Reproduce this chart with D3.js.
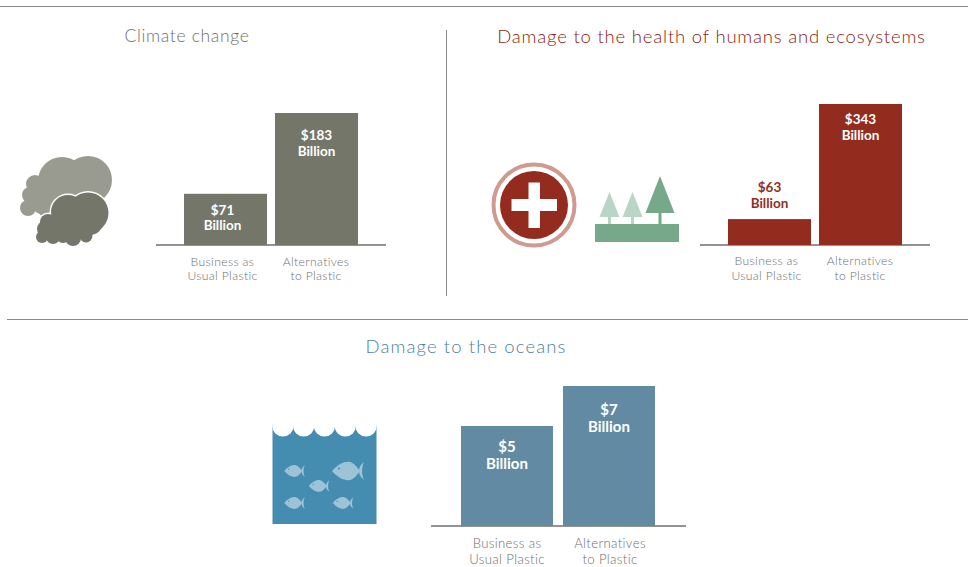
<!DOCTYPE html>
<html>
<head>
<meta charset="utf-8">
<script src="https://cdn.jsdelivr.net/npm/d3@7"></script>
<style>
  html, body { margin: 0; padding: 0; background: #fff; overflow: hidden; }
  text { font-family: Lato, "Open Sans", sans-serif; }
</style>
</head>
<body>
<svg id="chart" width="968" height="567"></svg>
<script>
// values, in billions of dollars
const categories = ["Business as Usual Plastic", "Alternatives to Plastic"];
const tick_lines = [["Business as", "Usual Plastic"], ["Alternatives", "to Plastic"]];
const climate_values = [71, 183];
const health_values = [63, 343];
const ocean_values = [5, 7];

const svg = d3.select("svg#chart");
const grey_line = "#8a8a8a";
const tick_color = "#6e6e6e";

// rules between the panels
svg.append("line").attr("x1", 0).attr("x2", 968).attr("y1", 6.5).attr("y2", 6.5).attr("stroke", grey_line);
svg.append("line").attr("x1", 7).attr("x2", 968).attr("y1", 319.5).attr("y2", 319.5).attr("stroke", grey_line);
svg.append("line").attr("x1", 446.5).attr("x2", 446.5).attr("y1", 30).attr("y2", 296).attr("stroke", grey_line);

function add_title(label, x, y, color, size, spacing) {
  svg.append("text")
    .attr("x", x)
    .attr("y", y)
    .attr("text-anchor", "middle")
    .attr("fill", color)
    .style("font-size", size + "px")
    .style("font-weight", 300)
    .style("letter-spacing", spacing + "px")
    .text(label);
}
add_title("Climate change", 187, 42, "#6f7066", 17.5, 0.65);
add_title("Damage to the health of humans and ecosystems", 711.5, 43, "#8a1c0e", 18.5, 0.8);
add_title("Damage to the oceans", 466, 353, "#4f7f99", 18.5, 1.1);

function draw_panel(p) {
  const g = svg.append("g").attr("class", "panel");
  const x = d3.scaleBand().domain(categories).range(p.range).paddingInner(p.inner);
  const y = d3.scaleLinear().domain([0, p.max]).range([p.base, p.base - p.max_height]);

  g.append("line")
    .attr("x1", p.line[0]).attr("x2", p.line[1])
    .attr("y1", p.base).attr("y2", p.base)
    .attr("stroke", "#6f6f6f").attr("stroke-width", 1.4);

  g.selectAll("rect.bar")
    .data(p.values)
    .join("rect")
    .attr("class", "bar")
    .attr("x", (d, i) => x(categories[i]))
    .attr("y", d => y(d))
    .attr("width", x.bandwidth())
    .attr("height", d => y(0) - y(d))
    .attr("fill", p.color);

  // two line value labels
  p.values.forEach((d, i) => {
    const cx = x(categories[i]) + x.bandwidth() / 2 + p.label_dx[i];
    const first = y(d) + p.label_dy[i];
    const label = g.append("text")
      .attr("text-anchor", "middle")
      .attr("fill", p.label_color[i])
      .style("font-size", p.label_size + "px")
      .style("font-weight", 700);
    label.append("tspan").attr("x", cx).attr("y", first).text("$" + d);
    label.append("tspan").attr("x", cx).attr("y", first + p.label_gap).text("Billion");
  });

  const axis = d3.axisBottom(x).tickSize(0).tickPadding(0);
  const axis_g = g.append("g")
    .attr("transform", `translate(0, ${p.base})`)
    .call(axis);
  axis_g.select(".domain").remove();
  axis_g.selectAll(".tick text").each(function (d, i) {
    const t = d3.select(this).text(null)
      .attr("y", null).attr("dy", null)
      .attr("fill", tick_color)
      .style("font-size", p.tick_size + "px")
      .style("font-weight", 300)
      .style("letter-spacing", "0.35px");
    tick_lines[i].forEach((line, k) => {
      t.append("tspan")
        .attr("x", p.tick_dx[i])
        .attr("y", p.tick_y + k * p.tick_gap)
        .text(line);
    });
  });
}

draw_panel({
  values: climate_values, max: 183, max_height: 132, base: 245,
  range: [184, 358], inner: 8 / 91, line: [156, 386], color: "#75766a",
  label_color: ["#fff", "#fff"], label_dx: [-3, 0], label_dy: [21, 27], label_gap: 15.5, label_size: 13.5,
  tick_y: 20.5, tick_gap: 14.5, tick_size: 12.2, tick_dx: [-3, -0.5]
});
draw_panel({
  values: health_values, max: 343, max_height: 141, base: 245,
  range: [728, 902], inner: 8 / 91, line: [700, 930], color: "#932c1e",
  label_color: ["#932c1e", "#fff"], label_dx: [0, 0], label_dy: [-27, 20], label_gap: 16, label_size: 13.5,
  tick_y: 20, tick_gap: 14.5, tick_size: 12.2, tick_dx: [-3, -0.5]
});
draw_panel({
  values: ocean_values, max: 7, max_height: 140, base: 526,
  range: [461, 655], inner: 10 / 102, line: [431, 686], color: "#628ba3",
  label_color: ["#fff", "#fff"], label_dx: [0, 0], label_dy: [26, 29], label_gap: 17, label_size: 15,
  tick_y: 22, tick_gap: 16, tick_size: 13.2, tick_dx: [0, 1]
});

// cloud icon
const clouds = svg.append("g").attr("class", "clouds");
const back_cloud = [[88, 180, 24], [62, 181, 24], [35, 184, 9], [30, 195, 8], [28, 208, 8], [60, 198, 26], [45, 200, 15]];
const front_cloud = [[88, 213, 20.5], [68, 212, 17], [48, 222, 8], [45, 229, 8], [42, 237, 6], [53, 237, 7], [63, 236, 7], [73, 238, 8], [86, 236, 6.5], [66, 226, 14], [72, 222, 16], [90, 222, 13]];
clouds.selectAll("circle.back").data(back_cloud).join("circle")
  .attr("class", "back").attr("cx", d => d[0]).attr("cy", d => d[1]).attr("r", d => d[2]).attr("fill", "#9a9b90");
clouds.selectAll("circle.halo").data(front_cloud).join("circle")
  .attr("class", "halo").attr("cx", d => d[0]).attr("cy", d => d[1]).attr("r", d => d[2] + 1.5).attr("fill", "#fff");
clouds.selectAll("circle.front").data(front_cloud).join("circle")
  .attr("class", "front").attr("cx", d => d[0]).attr("cy", d => d[1]).attr("r", d => d[2]).attr("fill", "#75766a");

// health cross
const cross = svg.append("g").attr("class", "cross");
cross.append("circle").attr("cx", 534).attr("cy", 205).attr("r", 40.5).attr("fill", "none").attr("stroke", "#cf9a8f").attr("stroke-width", 4);
cross.append("circle").attr("cx", 534).attr("cy", 205).attr("r", 34).attr("fill", "#932c1e");
cross.append("rect").attr("x", 511.5).attr("y", 199).attr("width", 45.5).attr("height", 12).attr("fill", "#fff");
cross.append("rect").attr("x", 528.5).attr("y", 182.5).attr("width", 11.5).attr("height", 45.5).attr("fill", "#fff");

// trees
const trees = svg.append("g").attr("class", "trees");
trees.append("rect").attr("x", 595).attr("y", 224).attr("width", 84).attr("height", 18).attr("fill", "#76a98a");
[[609.5, 192, 217, 10, "#b9d5c6"], [632.5, 192, 217, 10, "#b9d5c6"], [660, 176, 213, 14.5, "#76a98a"]].forEach(t => {
  trees.append("path")
    .attr("d", `M${t[0]},${t[1]}L${t[0] + t[3]},${t[2]}L${t[0] - t[3]},${t[2]}Z`)
    .attr("fill", t[4]);
  trees.append("rect").attr("x", t[0] - 1.5).attr("y", t[2]).attr("width", 3).attr("height", 224 - t[2]).attr("fill", t[4]);
});

// ocean
const ocean = svg.append("g").attr("class", "ocean");
ocean.append("rect").attr("x", 272.5).attr("y", 425).attr("width", 104).attr("height", 99).attr("fill", "#458cb1");
ocean.selectAll("circle.wave").data(d3.range(5)).join("circle")
  .attr("class", "wave")
  .attr("cx", d => 282.9 + d * 20.8)
  .attr("cy", 426)
  .attr("r", 10.6)
  .attr("fill", "#fff");

function fish(cx, cy, s) {
  const f = ocean.append("g").attr("transform", `translate(${cx},${cy}) scale(${s})`);
  f.append("path")
    .attr("d", "M-16,0C-10,-7 -3,-10 2,-9C6,-8 9,-4 12,0C9,4 6,8 2,9C-3,10 -10,7 -16,0Z")
    .attr("fill", "#9dc4d6");
  f.append("path")
    .attr("d", "M16,-9C13.5,-4 13.5,4 16,9C12,6 11,3 11,0C11,-3 12,-6 16,-9Z")
    .attr("fill", "#9dc4d6");
  f.append("circle").attr("cx", -9).attr("cy", -2.5).attr("r", 1).attr("fill", "#458cb1");
}
fish(348, 471, 1);
fish(294.5, 471, 0.64);
fish(319, 486, 0.64);
fish(294.5, 503, 0.64);
fish(343, 503, 0.64);
</script>
</body>
</html>
